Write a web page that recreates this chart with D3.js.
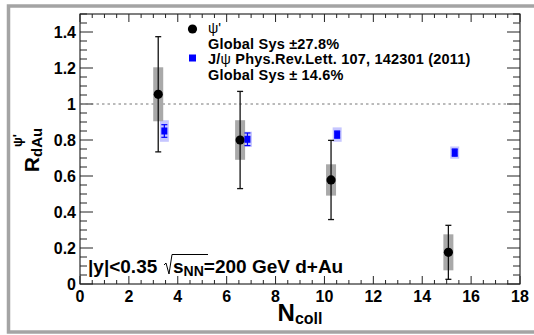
<!DOCTYPE html>
<html><head><meta charset="utf-8">
<script src="https://cdn.jsdelivr.net/npm/d3@7"></script>
<style>
html,body{margin:0;padding:0;background:#fff;}
text{font-family:"Liberation Sans",Arial,Helvetica,sans-serif;font-weight:bold;white-space:pre;}
</style></head>
<body><svg id="c" width="534" height="335"></svg>
<script>
const psiNcoll = [3.2, 6.55, 10.27, 15.07];
const psiR     = [1.054, 0.80, 0.578, 0.176];
const psiStat  = [0.32, 0.27, 0.22, 0.15];
const psiSys   = [0.15, 0.11, 0.087, 0.10];

const jpsiNcoll = [3.45, 6.85, 10.52, 15.33];
const jpsiR     = [0.85, 0.804, 0.83, 0.73];
const jpsiStat  = [0.035, 0.035, 0.02, 0.02];
const jpsiSys   = [0.06, 0.042, 0.04, 0.034];

const xTicks = [0, 2, 4, 6, 8, 10, 12, 14, 16, 18];
const yTicks = [0, 0.2, 0.4, 0.6, 0.8, 1, 1.2, 1.4];
const yTickLabels = ["0", "0.2", "0.4", "0.6", "0.8", "1", "1.2", "1.4"];

const svg = d3.select("#c");
const L = 80, R = 520, T = 14, B = 284;
const x = d3.scaleLinear().domain([0, 18]).range([L, R]);
const y = d3.scaleLinear().domain([0, 1.5]).range([B, T]);

// outer frame
svg.append("rect").attr("x", 8.5).attr("y", 6).attr("width", 540).attr("height", 326)
  .attr("fill", "none").attr("stroke", "#a4a4a4").attr("stroke-width", 3.5);

// plot frame
svg.append("rect").attr("x", L).attr("y", T).attr("width", R - L).attr("height", B - T)
  .attr("fill", "none").attr("stroke", "#000").attr("stroke-width", 1);

// ticks
const g = svg.append("g").attr("stroke", "#222").attr("stroke-width", 1);
d3.range(0, 18.01, 0.5).forEach(v => {
  const major = Math.abs(v / 2 - Math.round(v / 2)) < 1e-6;
  const len = major ? 8 : 4;
  g.append("line").attr("x1", x(v)).attr("x2", x(v)).attr("y1", B).attr("y2", B - len);
  g.append("line").attr("x1", x(v)).attr("x2", x(v)).attr("y1", T).attr("y2", T + len);
});
d3.range(0, 1.501, 0.05).forEach(v => {
  const major = Math.abs(v / 0.2 - Math.round(v / 0.2)) < 1e-6;
  const len = major ? 13 : 7;
  g.append("line").attr("x1", L).attr("x2", L + len).attr("y1", y(v)).attr("y2", y(v));
  g.append("line").attr("x1", R).attr("x2", R - len).attr("y1", y(v)).attr("y2", y(v));
});

// tick labels
svg.selectAll(".xt").data(xTicks).enter().append("text")
  .attr("x", d => x(d)).attr("y", 302).attr("text-anchor", "middle")
  .attr("font-size", 16).text(d => d);
svg.selectAll(".yt").data(yTicks).enter().append("text")
  .attr("x", 76).attr("y", d => y(d) + 6).attr("text-anchor", "end")
  .attr("font-size", 16).text((d, i) => yTickLabels[i]);

// dashed line at 1
svg.append("line").attr("x1", x(0)).attr("x2", x(18)).attr("y1", y(1)).attr("y2", y(1))
  .attr("stroke", "#777").attr("stroke-width", 1).attr("stroke-dasharray", "2.5,3");

// J/psi sys boxes
svg.selectAll(".jsys").data(jpsiNcoll).enter().append("rect")
  .attr("x", d => x(d) - 4.5).attr("width", 9)
  .attr("y", (d, i) => y(jpsiR[i] + jpsiSys[i]))
  .attr("height", (d, i) => y(jpsiR[i] - jpsiSys[i]) - y(jpsiR[i] + jpsiSys[i]))
  .attr("fill", "#c6c6ff");
// psi sys boxes
svg.selectAll(".psys").data(psiNcoll).enter().append("rect")
  .attr("x", d => x(d) - 5).attr("width", 10)
  .attr("y", (d, i) => y(psiR[i] + psiSys[i]))
  .attr("height", (d, i) => y(psiR[i] - psiSys[i]) - y(psiR[i] + psiSys[i]))
  .attr("fill", "#a9a9a9");

// psi stat errors
psiNcoll.forEach((n, i) => {
  const cx = x(n), y1 = y(psiR[i] + psiStat[i]), y2 = y(psiR[i] - psiStat[i]);
  const e = svg.append("g").attr("stroke", "#111").attr("stroke-width", 1.3);
  e.append("line").attr("x1", cx).attr("x2", cx).attr("y1", y1).attr("y2", y2);
  e.append("line").attr("x1", cx - 3).attr("x2", cx + 3).attr("y1", y1).attr("y2", y1);
  e.append("line").attr("x1", cx - 3).attr("x2", cx + 3).attr("y1", y2).attr("y2", y2);
});
svg.selectAll(".pm").data(psiNcoll).enter().append("circle")
  .attr("cx", d => x(d)).attr("cy", (d, i) => y(psiR[i])).attr("r", 4.6).attr("fill", "#000");

// J/psi markers + stat errors
jpsiNcoll.forEach((n, i) => {
  const cx = x(n), y1 = y(jpsiR[i] + jpsiStat[i]), y2 = y(jpsiR[i] - jpsiStat[i]);
  svg.append("rect").attr("x", cx - 3).attr("y", y(jpsiR[i]) - 3.5).attr("width", 6).attr("height", 7)
    .attr("fill", "#0000ff");
  const e = svg.append("g").attr("stroke", "#0000ff").attr("stroke-width", 1.2);
  e.append("line").attr("x1", cx).attr("x2", cx).attr("y1", y1).attr("y2", y2);
  e.append("line").attr("x1", cx - 3).attr("x2", cx + 3).attr("y1", y1).attr("y2", y1);
  e.append("line").attr("x1", cx - 3).attr("x2", cx + 3).attr("y1", y2).attr("y2", y2);
});

// legend
svg.append("circle").attr("cx", 192.5).attr("cy", 29).attr("r", 4.6).attr("fill", "#000");
const t1 = svg.append("text").attr("x", 208).attr("y", 32.5).attr("font-size", 14.5);
t1.append("tspan").attr("font-weight", "normal").text("ψ'");
svg.append("text").attr("x", 208).attr("y", 48.5).attr("font-size", 14.5).attr("letter-spacing", 0.2).text("Global Sys ±27.8%");
svg.append("rect").attr("x", 189).attr("y", 54.5).attr("width", 7).attr("height", 7).attr("fill", "#0000ff");
const t2 = svg.append("text").attr("x", 208).attr("y", 64).attr("font-size", 14.5).attr("letter-spacing", 0.2);
t2.append("tspan").text("J/");
t2.append("tspan").attr("font-weight", "normal").text("ψ");
t2.append("tspan").text(" Phys.Rev.Lett. 107, 142301 (2011)");
svg.append("text").attr("x", 208).attr("y", 79.5).attr("font-size", 14.5).attr("letter-spacing", 0.2).text("Global Sys ± 14.6%");

// bottom annotation
svg.append("text").attr("x", 88).attr("y", 273).attr("font-size", 19).text("|y|<0.35");
const sx = 164;
svg.append("path")
  .attr("d", `M${sx},265 L${sx + 2},263 L${sx + 5},274 L${sx + 8},254.5 L${sx + 44},254.5`)
  .attr("fill", "none").attr("stroke", "#000").attr("stroke-width", 1);
const b = svg.append("text").attr("x", sx + 9).attr("y", 273).attr("font-size", 19);
b.append("tspan").text("s");
b.append("tspan").attr("font-size", 14).attr("dy", 3).text("NN");
b.append("tspan").attr("dy", -3).text("=200 GeV d+Au");

// x title
const xt = svg.append("text").attr("x", 300).attr("y", 321).attr("text-anchor", "middle").attr("font-size", 24);
xt.append("tspan").text("N");
xt.append("tspan").attr("font-size", 16).attr("dy", 3).text("coll");

// y title
const yt = svg.append("text").attr("transform", "translate(39,150) rotate(-90)")
  .attr("text-anchor", "middle").attr("font-size", 21);
yt.append("tspan").text("R");
yt.append("tspan").attr("font-size", 15).attr("dy", 3).text("dAu");
svg.append("text").attr("transform", "translate(22,147) rotate(-90)")
  .attr("font-size", 13).attr("font-weight", "normal").text("ψ'");
</script></body></html>
